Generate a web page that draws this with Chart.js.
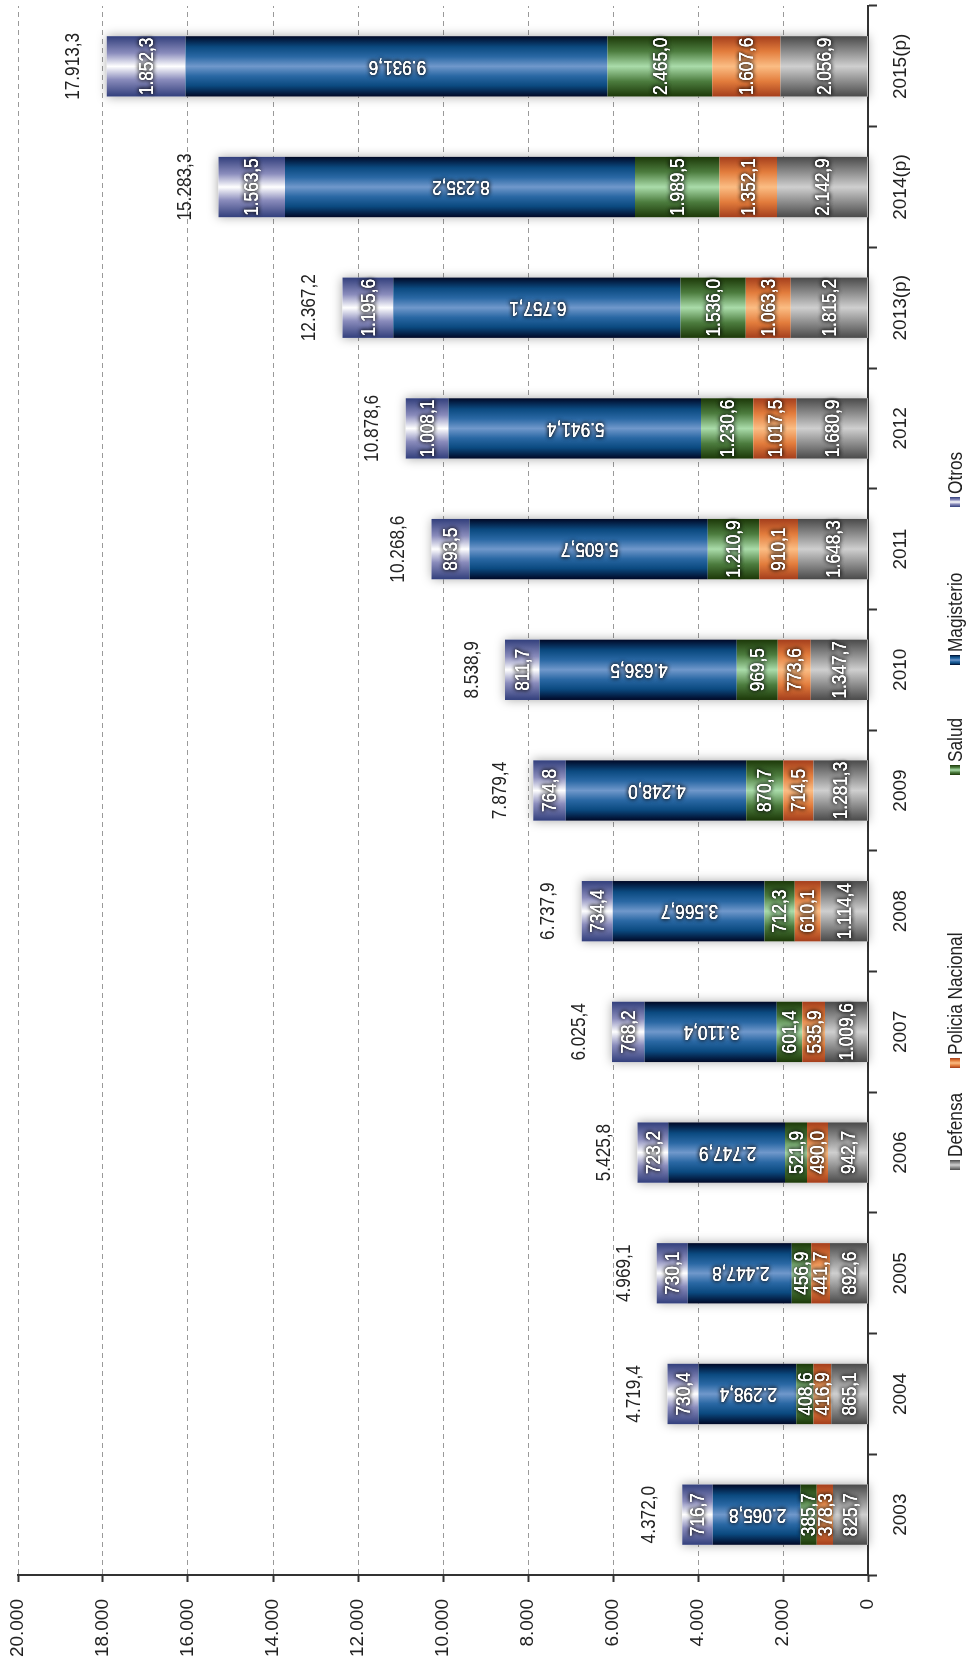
<!DOCTYPE html>
<html>
<head>
<meta charset="utf-8">
<script src="https://cdn.jsdelivr.net/npm/chart.js@4.4.1/dist/chart.umd.min.js"></script>
<style>
  html, body { margin: 0; padding: 0; background: #fff; overflow: hidden; }
  body { width: 968px; height: 1660px; position: relative; }
  /* el grafico se dibuja en horizontal y se gira 90 grados */
  #giro { position: absolute; left: 0; top: 0; width: 1660px; height: 968px;
          transform-origin: 0 0; transform: translate(0px, 1660px) rotate(-90deg); }
</style>
</head>
<body>
<div id="giro"><canvas id="myChart" width="1660" height="968"></canvas></div>
<script>
// Datos del grafico
const anios = ['2003', '2004', '2005', '2006', '2007', '2008', '2009', '2010', '2011', '2012', '2013(p)', '2014(p)', '2015(p)']
const defensa = [825.7, 865.1, 892.6, 942.7, 1009.6, 1114.4, 1281.3, 1347.7, 1648.3, 1680.9, 1815.2, 2142.9, 2056.9]
const policia = [378.3, 416.9, 441.7, 490.0, 535.9, 610.1, 714.5, 773.6, 910.1, 1017.5, 1063.3, 1352.1, 1607.6]
const salud = [385.7, 408.6, 456.9, 521.9, 601.4, 712.3, 870.7, 969.5, 1210.9, 1230.6, 1536.0, 1989.5, 2465.0]
const magisterio = [2065.8, 2298.4, 2447.8, 2747.9, 3110.4, 3566.7, 4248.0, 4636.5, 5605.7, 5941.4, 6757.1, 8235.2, 9931.6]
const otros = [716.7, 730.4, 730.1, 723.2, 768.2, 734.4, 764.8, 811.7, 893.5, 1008.1, 1195.6, 1563.5, 1852.3]
const totales = [4372.0, 4719.4, 4969.1, 5425.8, 6025.4, 6737.9, 7879.4, 8538.9, 10268.6, 10878.6, 12367.2, 15283.3, 17913.3]

const FUENTE = '"Liberation Sans", Arial, sans-serif'
const ANGOSTO = 0.82 // la letra original es tipo "narrow"
const ctx = document.getElementById('myChart')

// Numeros con punto de miles y coma decimal
const formato = (v, dec) => {
    const [ent, frac] = v.toFixed(dec).split('.')
    const miles = ent.replace(/\B(?=(\d{3})+(?!\d))/g, '.')
    return frac ? miles + ',' + frac : miles
}

// Degradados de cada serie (borde - centro - borde)
const degradados = {
    Defensa: [[0, '#4a4a4a'], [0.25, '#8c8c8c'], [0.5, '#cfcfcf'], [0.75, '#8c8c8c'], [1, '#4a4a4a']],
    'Policia Nacional': [[0, '#a43e1c'], [0.25, '#e27c3c'], [0.5, '#fbbd84'], [0.75, '#e27c3c'], [1, '#a43e1c']],
    Salud: [[0, '#1c3808'], [0.25, '#4c7c3e'], [0.5, '#aadcaa'], [0.75, '#4c7c3e'], [1, '#1c3808']],
    Magisterio: [[0, '#000826'], [0.18, '#0b4a80'], [0.34, '#2a68a4'], [0.5, '#7098cb'], [0.66, '#2a68a4'], [0.82, '#0b4a80'], [1, '#000826']],
    Otros: [[0, '#323f7c'], [0.28, '#8a8cbc'], [0.5, '#ffffff'], [0.72, '#8a8cbc'], [1, '#323f7c']]
}
const colorMedio = { Defensa: '#8c8c8c', 'Policia Nacional': '#e27c3c', Salud: '#4c7c3e', Magisterio: '#0b4a80', Otros: '#8a8cbc' }
const ANCHO_BARRA = 0.5
// inicio de cada elemento de la leyenda (px del lienzo sin girar)
const posLeyenda = [490, 592, 885, 995, 1153]

const gradiente = (c, nombre, x0, x1) => {
    const g = c.createLinearGradient(x0, 0, x1, 0)
    degradados[nombre].forEach(([p, col]) => g.addColorStop(p, col))
    return g
}

const rellenoBarra = nombre => c => {
    const chart = c.chart
    const xs = chart.scales.x
    if (!chart.chartArea || !xs) return colorMedio[nombre]
    const centro = xs.getPixelForValue(c.dataIndex)
    const w = (xs.getPixelForValue(1) - xs.getPixelForValue(0)) * ANCHO_BARRA
    return gradiente(chart.ctx, nombre, centro - w / 2, centro + w / 2)
}

const serie = (nombre, data) => ({
    label: nombre,
    data,
    backgroundColor: rellenoBarra(nombre),
    borderWidth: 0,
    barPercentage: ANCHO_BARRA,
    categoryPercentage: 1
})

// texto angosto con halo oscuro
const textoAngosto = (c, texto, x, y, rot, halo) => {
    c.save()
    c.translate(x, y)
    if (rot) c.rotate(rot)
    c.scale(ANGOSTO, 1)
    if (halo) {
        c.shadowColor = 'rgba(0,0,0,1)'
        c.shadowBlur = 4
        c.fillText(texto, 0, 0)
        c.fillText(texto, 0, 0)
        c.shadowBlur = 0
    }
    c.fillText(texto, 0, 0)
    c.restore()
}

// Sombra suave detras de cada columna
const sombra = {
    id: 'sombra',
    beforeDatasetsDraw(chart) {
        const { ctx: c, scales: { x, y } } = chart
        const w = (x.getPixelForValue(1) - x.getPixelForValue(0)) * ANCHO_BARRA
        c.save()
        c.shadowColor = 'rgba(0,0,0,0.35)'
        c.shadowBlur = 10
        c.fillStyle = '#ffffff'
        totales.forEach((t, i) => {
            const cx = x.getPixelForValue(i)
            const top = y.getPixelForValue(t)
            c.fillRect(cx - w / 2, top, w, y.getPixelForValue(0) - top)
        })
        c.restore()
    }
}

// Etiquetas dentro de las barras, totales encima y leyenda
const etiquetas = {
    id: 'etiquetas',
    afterDatasetsDraw(chart) {
        const c = chart.ctx
        c.save()
        c.font = '21px ' + FUENTE
        c.textAlign = 'center'
        c.textBaseline = 'middle'
        c.fillStyle = '#ffffff'
        chart.data.datasets.forEach((ds, i) => {
            chart.getDatasetMeta(i).data.forEach((el, j) => {
                const rot = ds.label === 'Magisterio' ? -Math.PI / 2 : 0
                textoAngosto(c, formato(ds.data[j], 1), el.x, (el.y + el.base) / 2 + 1, rot, true)
            })
        })
        const { x, y } = chart.scales
        c.fillStyle = '#222222'
        totales.forEach((t, i) => {
            textoAngosto(c, formato(t, 1), x.getPixelForValue(i), y.getPixelForValue(t) - 33, 0, false)
        })
        c.restore()
    },
    afterDraw(chart) {
        const c = chart.ctx
        const yc = 955
        c.save()
        c.font = '21px ' + FUENTE
        c.textAlign = 'left'
        c.textBaseline = 'middle'
        chart.data.datasets.forEach((ds, i) => {
            const x0 = posLeyenda[i]
            c.fillStyle = gradiente(c, ds.label, x0, x0 + 10)
            c.fillRect(x0, yc - 5, 10, 10)
            c.fillStyle = '#222222'
            textoAngosto(c, ds.label, x0 + 13, yc + 1, 0, false)
        })
        c.restore()
    }
}

new Chart(ctx, {
    type: 'bar',
    data: {
        labels: anios,
        datasets: [
            serie('Defensa', defensa),
            serie('Policia Nacional', policia),
            serie('Salud', salud),
            serie('Magisterio', magisterio),
            serie('Otros', otros)
        ]
    },
    options: {
        responsive: false,
        animation: false,
        devicePixelRatio: 1,
        layout: { padding: { top: 18, right: 6, left: 0, bottom: 0 } },
        plugins: {
            tooltip: { enabled: false },
            legend: { display: false }
        },
        scales: {
            x: {
                stacked: true,
                offset: true,
                border: { color: '#333333', width: 2 },
                grid: { offset: true, drawOnChartArea: false, tickLength: 9, tickColor: '#333333', tickWidth: 2 },
                ticks: { font: { family: FUENTE, size: 19 }, color: '#222222', maxRotation: 0, padding: 12 },
                afterFit: s => { s.height = 100; s.paddingLeft = 0; s.paddingRight = 0 }
            },
            y: {
                stacked: true,
                min: 0,
                max: 20000,
                border: { color: '#333333', width: 2, dash: [5, 4] },
                grid: { color: '#9a9a9a', tickBorderDash: [], tickColor: '#333333', tickLength: 7, tickWidth: 2 },
                ticks: { stepSize: 2000, font: { family: FUENTE, size: 19 }, color: '#222222', padding: 17,
                         callback: v => formato(v, 0) },
                afterFit: s => { s.width = 85; s.paddingTop = 0; s.paddingBottom = 0 }
            }
        }
    },
    plugins: [sombra, etiquetas]
})
</script>
</body>
</html>
